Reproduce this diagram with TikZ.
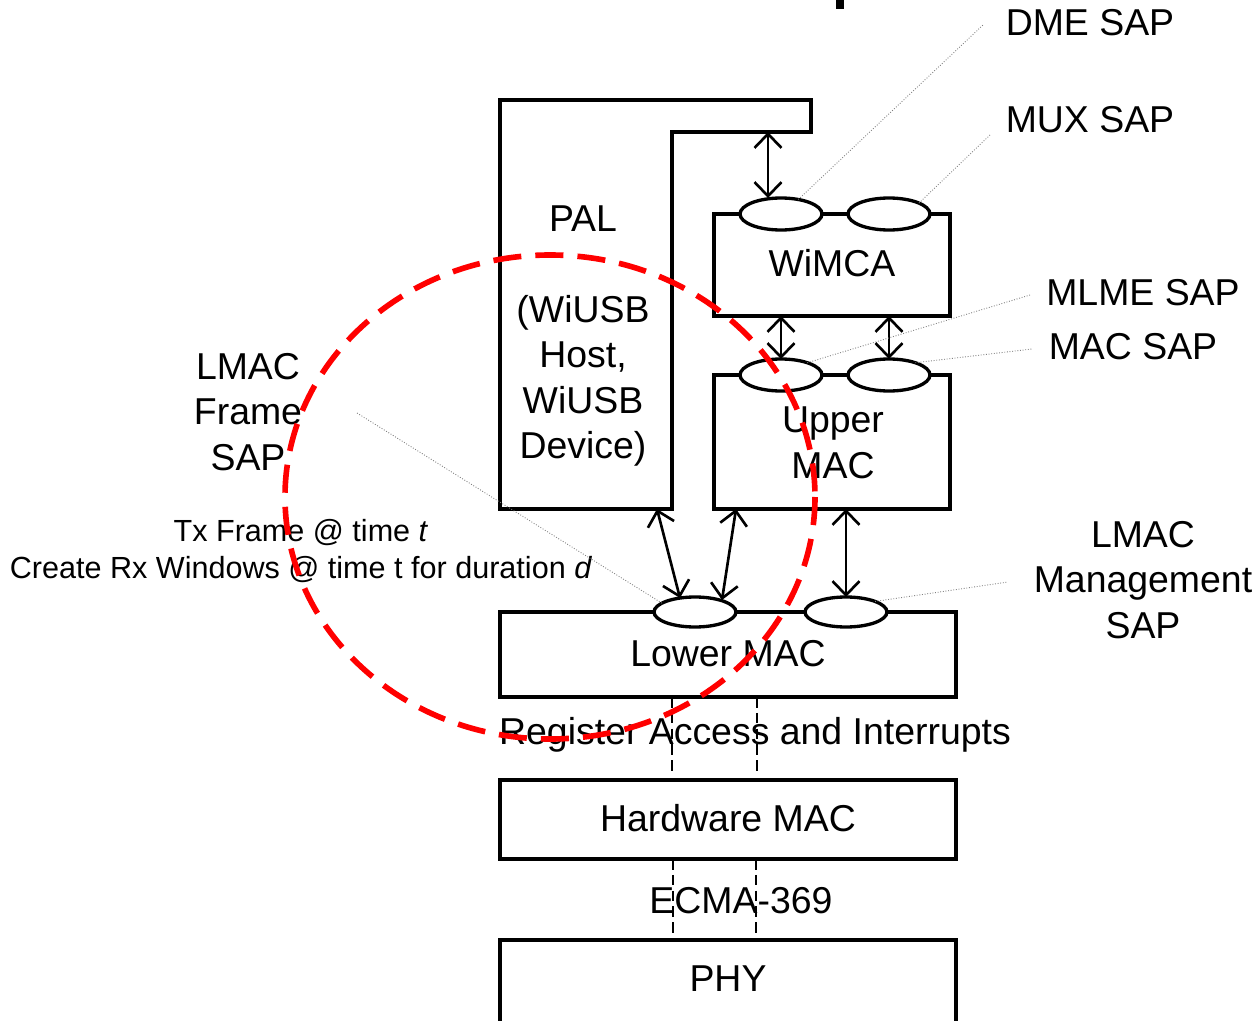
\documentclass[tikz,border=0pt]{standalone}
\usepackage{fontspec}
\setmainfont{Liberation Sans}
\usetikzlibrary{shapes.geometric,arrows.meta}
\begin{document}
\begin{tikzpicture}[x=0.02cm,y=-0.02cm,
 box/.style={draw,line width=1.9pt,inner sep=0,outer sep=0},
 sap/.style={draw,ellipse,fill=white,line width=1.9pt,minimum width=1.64cm,minimum height=0.64cm,inner sep=0,outer sep=0},
 lbl/.style={font=\fontsize{21.3}{25.9}\selectfont,align=center,inner sep=0},
 small/.style={font=\fontsize{17.4}{21}\selectfont,align=center,inner sep=0},
 link/.style={line width=1.5pt,{Straight Barb[length=2.8mm,width=5.4mm]}-{Straight Barb[length=2.8mm,width=5.4mm]}},
 leader/.style={black!50,line width=0.5pt,densely dotted},
 bus/.style={line width=1pt,dash pattern=on 6pt off 3pt},
 ring/.style={red,line width=3.2pt,dash pattern=on 16pt off 8pt}]
\useasboundingbox (0,0) rectangle (1259,1021);
\fill[white] (0,0) rectangle (1259,1021);
% fragment of the cut title
\fill[black] (836,0) rectangle (844,9);

% PAL block
\draw[line width=1.9pt] (500,100) -- (811,100) -- (811,132) -- (672,132) -- (672,509) -- (500,509) -- cycle;
\coordinate (palA) at (768,132);
\coordinate (palB) at (657,509);
\node[lbl] (paltitle) at (583,219) {PAL};
\node[lbl] (paltext) at (583,381) {(WiUSB\\Host,\\WiUSB\\Device)};

% boxes
\node[box,minimum width=4.72cm,minimum height=2.04cm] (wimca) at (832,265) {};
\node[lbl] (wimcat) at (832,263) {WiMCA};
\node[box,minimum width=4.72cm,minimum height=2.68cm] (umac) at (832,442) {};
\node[lbl] (umact) at (833,443) {Upper\\MAC};
\node[box,minimum width=9.12cm,minimum height=1.7cm] (lmac) at (728,654.5) {};
\node[lbl] (lmact) at (728,654) {Lower MAC};
\node[box,minimum width=9.12cm,minimum height=1.58cm] (hmac) at (728,819.5) {};
\node[lbl] (hmact) at (728,818) {Hardware MAC};
\node[box,minimum width=9.12cm,minimum height=2.2cm,anchor=north] (phy) at (728,940) {};
\node[lbl] (phyt) at (728,979) {PHY};

% SAP ellipses
\node[sap] (w1) at (781,214) {};
\node[sap] (w2) at (889,214) {};
\node[sap] (u1) at (781,375) {};
\node[sap] (u2) at (889,375) {};
\node[sap,minimum height=0.6cm] (l1) at (695,612) {};
\node[sap,minimum height=0.6cm] (l2) at (846,612) {};

% links
\draw[link] (palA) -- (palA |- w1.north);
\draw[link] (wimca.south -| u1.north) -- (u1.north);
\draw[link] (wimca.south -| u2.north) -- (u2.north);
\coordinate (l1a) at (680,598);
\coordinate (l1b) at (722,600);
\coordinate (umB) at (736,509);
\draw[link] (palB) -- (l1a);
\draw[link] (umB) -- (l1b);
\draw[link] (umac.south -| l2.north) -- (l2.north);

% dashed buses
\draw[bus] (672,697) -- (672,773);
\draw[bus] (757,697) -- (757,773);
\draw[bus] (673,859) -- (673,934);
\draw[bus] (756,859) -- (756,934);
\node[lbl] (reg) at (755,735) {Register Access and Interrupts};
\node[lbl] (ecma) at (741,901) {ECMA-369};

% SAP labels and leaders
\node[lbl] (dme) at (1090,23) {DME SAP};
\node[lbl] (mux) at (1090,120) {MUX SAP};
\node[lbl] (mlme) at (1143,293) {MLME SAP};
\node[lbl] (macsap) at (1133,347) {MAC SAP};
\node[lbl] (lmgmt) at (1143,580) {LMAC\\Management\\SAP};
\node[lbl] (lframe) at (248,412) {LMAC\\Frame\\SAP};
\node[small] (txt) at (301,551) {Tx Frame @ time \textit{t}\\Create Rx Windows @ time t for duration \textit{d}};

\coordinate (dmeEnd) at (983,25);
\coordinate (muxEnd) at (990,135);
\coordinate (mlmeEnd) at (1030,295);
\coordinate (macEnd) at (1032,349);
\coordinate (mgmtEnd) at (1008,582);
\coordinate (frameEnd) at (357,413);
\draw[leader] (w1.40) -- (dmeEnd);
\draw[leader] (w2.20) -- (muxEnd);
\draw[leader] (u1.25) -- (mlmeEnd);
\draw[leader] (u2.25) -- (macEnd);
\draw[leader] (l2.20) -- (mgmtEnd);
\draw[leader] (l1.165) -- (frameEnd);

% red highlight ring
\draw[ring] (550,497) ellipse [x radius=265, y radius=242];
\end{tikzpicture}
\end{document}
